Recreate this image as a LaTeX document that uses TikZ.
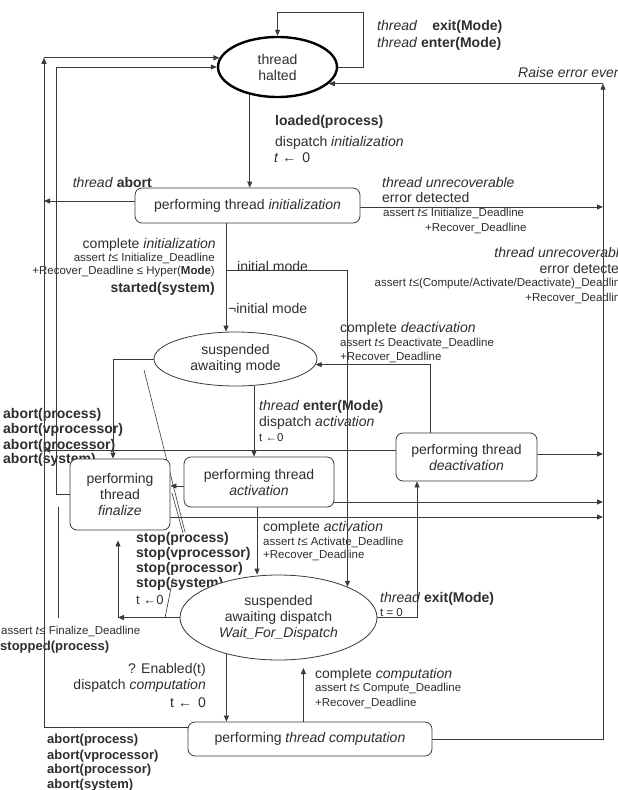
\documentclass[tikz,border=0pt]{standalone}
\usepackage{fontspec}
\setmainfont{Liberation Sans}
\usetikzlibrary{shapes.geometric,arrows.meta}
\definecolor{lc}{HTML}{3A3A3A}
\definecolor{tc}{HTML}{2E2E2E}
\newcommand\fmain{\fontsize{14}{16}\selectfont}
\newcommand\fsm{\fontsize{11.5}{14}\selectfont}
\newcommand\fmid{\fontsize{13}{15}\selectfont}
\pgfdeclarelayer{labels}
\pgfdeclarelayer{lines}
\pgfsetlayers{labels,lines,main}
\begin{document}
\begin{tikzpicture}[x=1pt,y=-1pt,
  state/.style={ellipse,draw=lc,line width=0.8pt,fill=white,inner sep=0pt,align=center,font=\fmain,text=tc},
  box/.style={rectangle,rounded corners=7pt,draw=lc,line width=0.8pt,fill=white,inner sep=0pt,align=center,font=\fmain,text=tc},
  lab/.style={inner sep=0pt,font=\fmain,text=tc},
  sml/.style={inner sep=0pt,font=\fsm,text=tc},
  mid/.style={inner sep=0pt,font=\fmid,text=tc},
  ln/.style={draw=lc,line width=0.8pt},
  arr/.style={ln,-{Triangle[length=6pt,width=5pt]}},
  lead/.style={draw=lc,line width=0.6pt}]

\useasboundingbox (0,0) rectangle (618,790);

% ---------- states ----------
\node[state,draw=black,line width=2.4pt,minimum width=119pt,minimum height=60pt] (halted) at (277.5,67) {thread\\halted};
\node[box,minimum width=225pt,minimum height=35pt] (init) at (247.5,205.5) {performing thread \textit{initialization}};
\node[state,minimum width=163pt,minimum height=54pt] (sam) at (235.5,359) {suspended\\awaiting mode};
\node[box,minimum width=100pt,minimum height=71pt] (fin) at (120,494.5) {performing\\thread\\\textit{finalize}};
\node[box,minimum width=150pt,minimum height=50pt] (act) at (259,482) {performing thread\\\textit{activation}};
\node[box,minimum width=141pt,minimum height=48pt] (deact) at (466.5,457) {performing thread\\\textit{deactivation}};
\node[state,minimum width=197pt,minimum height=85pt] (wfd) at (278.5,617.5) {suspended\\awaiting dispatch\\\textit{Wait\_For\_Dispatch}};
\node[box,minimum width=244pt,minimum height=34pt] (comp) at (310,739) {performing \textit{thread computation}};

% ---------- helper coordinates ----------
\coordinate (L1) at (44,0);
\coordinate (L2) at (56,0);
\coordinate (R) at (603,0);
\coordinate (loopc) at (363,12);
\coordinate (xb) at (226,0);
\coordinate (im) at (226,270);
\coordinate (xc) at (113,0);
\coordinate (xd) at (254,0);
\coordinate (xd2) at (257,0);
\coordinate (xe) at (430,0);
\coordinate (xf) at (417,0);
\coordinate (xg) at (118,0);
\coordinate (iw) at ([yshift=4.5pt]init.west);
\coordinate (ie) at ([yshift=-1.5pt]init.east);
\coordinate (aw) at ([yshift=-4pt]act.west);
\coordinate (ae) at ([yshift=-20pt]act.east);
\coordinate (fe) at ([yshift=-22.5pt]fin.east);
\coordinate (de) at ([yshift=3pt]deact.east);
\coordinate (dw) at ([yshift=7pt]deact.west);
\coordinate (cw) at ([yshift=12pt]comp.west);
\coordinate (d1a) at (144,370);
\coordinate (d1b) at (185,532);
\coordinate (d2a) at (172,493);
\coordinate (d2b) at (183,533);
\coordinate (d3a) at (173,578);
\coordinate (d3b) at (165,618);
\coordinate (d4a) at (58,507);
\coordinate (d4b) at (58,618);

% ---------- labels ----------
\begin{pgfonlayer}{labels}
\fill[white] (0,0) rectangle (618,790);
\clip (0,0) rectangle (618,790);
\node[lab,anchor=base west] (t1) at (377,30) {\textit{thread}\hspace{15pt}\textbf{exit(Mode)}};
\node[lab,anchor=base west] (t2) at (377,47) {\textit{thread} \textbf{enter(Mode)}};
\node[lab,anchor=base west] (t3) at (518,77) {\textit{Raise error event}};
\node[lab,anchor=base west] (t4) at (275,125) {\textbf{loaded(process)}};
\node[lab,anchor=base west] (t5) at (275,146) {dispatch \textit{initialization}};
\node[lab,anchor=base west] (t6) at (274,162) {\textit{t} ←\hspace{6pt}0};
\node[lab,anchor=base east] (t7) at (152,187) {\textit{thread} \textbf{abort}};
\node[lab,anchor=base west] (t8) at (382,187) {\textit{thread unrecoverable}};
\node[lab,anchor=base west] (t9) at (382,202) {error detected};
\node[sml,anchor=base west] (t10) at (383,216) {assert \textit{t}≤ Initialize\_Deadline};
\node[sml,anchor=base west] (t11) at (425,231) {+Recover\_Deadline};
\node[lab,anchor=base east] (t12) at (627,257) {\textit{thread unrecoverable}};
\node[lab,anchor=base east] (t13) at (627,273) {error detected};
\node[sml,anchor=base east] (t14) at (627,286) {assert \textit{t}≤(Compute/Activate/Deactivate)\_Deadline};
\node[sml,anchor=base east] (t15) at (627,301) {+Recover\_Deadline};
\node[lab,anchor=base east] (t16) at (216,248) {complete \textit{initialization}};
\node[sml,anchor=base east] (t17) at (215,261) {assert \textit{t}≤ Initialize\_Deadline};
\node[sml,anchor=base east] (t18) at (215,274) {+Recover\_Deadline ≤ Hyper(\textbf{Mode})};
\node[lab,anchor=base east] (t19) at (215,292) {\textbf{started(system)}};
\node[lab,anchor=base west] (t20) at (237,271) {initial mode};
\node[lab,anchor=base west] (t21) at (228,313) {¬initial mode};
\node[lab,anchor=base west] (t22) at (340,332) {complete \textit{deactivation}};
\node[sml,anchor=base west] (t23) at (340,346) {assert \textit{t}≤ Deactivate\_Deadline};
\node[sml,anchor=base west] (t24) at (340,360) {+Recover\_Deadline};
\node[lab,anchor=base west] (t25) at (3,418) {\textbf{abort(process)}};
\node[lab,anchor=base west] (t26) at (3,433) {\textbf{abort(vprocessor)}};
\node[lab,anchor=base west] (t27) at (3,449) {\textbf{abort(processor)}};
\node[lab,anchor=base west] (t28) at (3,463) {\textbf{abort(system)}};
\node[lab,anchor=base west] (t29) at (259,410) {\textit{thread} \textbf{enter(Mode)}};
\node[lab,anchor=base west] (t30) at (259,426) {dispatch \textit{activation}};
\node[sml,anchor=base west] (t31) at (259,441) {t ←0};
\node[lab,anchor=base west] (t32) at (263,531) {complete \textit{activation}};
\node[sml,anchor=base west] (t33) at (263,545) {assert \textit{t}≤ Activate\_Deadline};
\node[sml,anchor=base west] (t34) at (263,558) {+Recover\_Deadline};
\node[lab,anchor=base west] (t35) at (380,602) {\textit{thread} \textbf{exit(Mode)}};
\node[sml,anchor=base west] (t36) at (380,616) {t = 0};
\node[lab,anchor=base west] (t37) at (136,542) {\textbf{stop(process)}};
\node[lab,anchor=base west] (t38) at (136,557) {\textbf{stop(vprocessor)}};
\node[lab,anchor=base west] (t39) at (136,572) {\textbf{stop(processor)}};
\node[lab,anchor=base west] (t40) at (136,587) {\textbf{stop(system)}};
\node[mid,anchor=base west] (t41) at (136,604) {t ←0};
\node[sml,anchor=base west] (t42) at (1,634) {assert \textit{t}≤ Finalize\_Deadline};
\node[mid,anchor=base west] (t43) at (0,650) {\textbf{stopped(process)}};
\node[lab,anchor=base east] (t44) at (206,673) {? Enabled(t)};
\node[lab,anchor=base east] (t45) at (206,689) {dispatch \textit{computation}};
\node[lab,anchor=base east] (t46) at (206,707) {t ←\hspace{6pt}0};
\node[lab,anchor=base west] (t47) at (315,678) {complete \textit{computation}};
\node[sml,anchor=base west] (t48) at (315,691) {assert \textit{t}≤ Compute\_Deadline};
\node[sml,anchor=base west] (t49) at (315,706) {+Recover\_Deadline};
\node[mid,anchor=base west] (t50) at (47,743) {\textbf{abort(process)}};
\node[mid,anchor=base west] (t51) at (47,759) {\textbf{abort(vprocessor)}};
\node[mid,anchor=base west] (t52) at (47,773) {\textbf{abort(processor)}};
\node[mid,anchor=base west] (t53) at (47,788) {\textbf{abort(system)}};
\end{pgfonlayer}

% ---------- connectors ----------
\begin{pgfonlayer}{lines}
% self loop on halted
\draw[arr] (halted.east) -| (loopc) -| (halted.north);
% loaded -> initialization
\draw[arr] (halted.225) -- (init.north -| halted.225);
% thread abort
\draw[arr] (iw) -- (iw -| L1);
% unrecoverable error from initialization
\draw[arr] (ie) -- (ie -| R);
% not initial mode
\draw[arr] (init.south -| xb) -- (sam.north -| xb);
% initial mode
\draw[arr] (im) -| (wfd.24);
% awaiting mode -> finalize
\draw[arr] (sam.west) -| (fin.north -| xc);
% awaiting mode -> activation
\draw[arr] (sam.south -| xd) -- (act.north -| xd);
% deactivation -> awaiting mode
\draw[arr] (deact.north -| xe) |- (sam.-4);
% activation -> finalize
\draw[arr] (aw) -- (aw -| fin.east);
% errors to the right line
\draw[arr] (ae) -- (ae -| R);
\draw[arr] (fe) -- (fe -| R);
\draw[arr] (de) -- (de -| R);
% abort from deactivation to left line
\draw[arr] (dw) -- (dw -| L1);
% finalize -> halted
\draw[arr] (fin.west) -- (fin.west -| L2) -- (L2 |- halted.west) -- (halted.west);
% computation abort -> halted
\draw[arr] (cw) -- (cw -| L1) -- (L1 |- halted.171);
\draw[arr] (L1 |- halted.171) -- (halted.171);
% computation error -> raise error event
\draw[arr] (comp.east) -- (comp.east -| R) -- (R |- halted.-18);
\draw[arr] (R |- halted.-18) -- (halted.-18);
% wait for dispatch -> deactivation
\draw[arr] (wfd.east) -| (deact.south -| xf);
% wait for dispatch -> finalize (stop)
\draw[arr] (wfd.west) -- (wfd.west -| xg);
\draw[arr,shorten >=10pt] (wfd.west -| xg) -- (fin.south -| xg);
% activation -> wait for dispatch
\draw[arr] (act.south -| xd2) -- (wfd.north -| xd2);
% wait for dispatch -> computation
\draw[arr] (wfd.215) -- (comp.north -| wfd.215);
% computation -> wait for dispatch
\draw[arr,shorten >=9pt] (comp.north -| wfd.-59) -- (wfd.-59);
% leader strokes
\draw[lead] (d1a) -- (d1b);
\draw[lead] (d2a) -- (d2b);
\draw[lead] (d3a) -- (d3b);
\draw[lead] (d4a) -- (d4b);
\end{pgfonlayer}
\end{tikzpicture}
\end{document}
